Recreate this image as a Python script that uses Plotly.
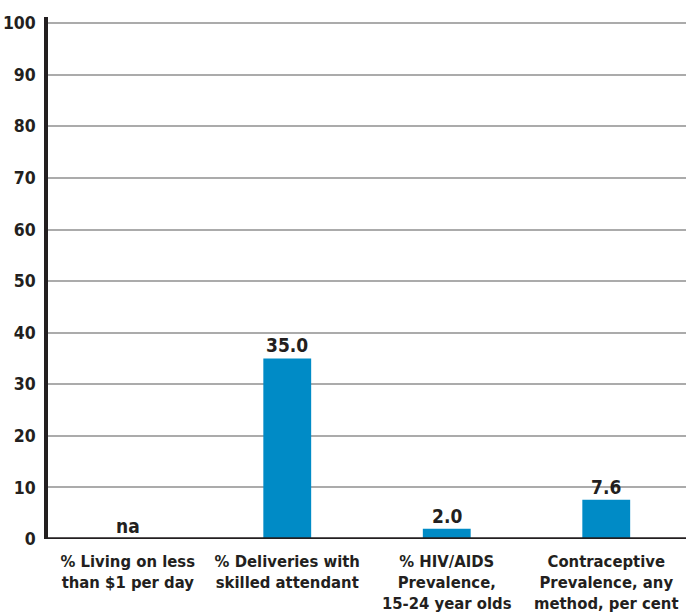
import plotly.graph_objects as go

categories = ["% Living on less<br>than $1 per day",
              "% Deliveries with<br>skilled attendant",
              "% HIV/AIDS<br>Prevalence,<br>15-24 year olds",
              "Contraceptive<br>Prevalence, any<br>method, per cent"]
values = [None, 35.0, 2.0, 7.6]
labels = ["na", "35.0", "2.0", "7.6"]
y_ticks = [0, 10, 20, 30, 40, 50, 60, 70, 80, 90, 100]

FONT = "DejaVu Sans Condensed, Roboto, sans-serif"
DARK = "#231f20"

fig = go.Figure()
fig.add_trace(go.Bar(
    x=categories,
    y=[v if v is not None else 0 for v in values],
    width=0.3,
    marker=dict(color="#008bc6", line=dict(width=0)),
    hoverinfo="skip",
))

for c, v, t in zip(categories, values, labels):
    fig.add_annotation(x=c, y=v if v is not None else 0, text="<b>%s</b>" % t,
                       showarrow=False, yanchor="bottom", yshift=0,
                       font=dict(family=FONT, size=19, color=DARK))

fig.update_layout(
    width=686, height=616,
    margin=dict(l=48, r=0, t=17, b=77),
    plot_bgcolor="white", paper_bgcolor="white",
    showlegend=False,
    xaxis=dict(range=[-0.5, 3.5], showgrid=False, showline=False,
               automargin=False,
               tickfont=dict(family=FONT, size=16.5, color=DARK),
               ticks="", ticklabelstandoff=10, fixedrange=True),
    yaxis=dict(range=[0, 101.2], tickvals=y_ticks, automargin=False,
               ticktext=["<b>%d</b>" % t for t in y_ticks],
               showgrid=True, gridcolor="#ababab", gridwidth=1.5,
               showline=True, linecolor=DARK, linewidth=3.5,
               zeroline=False, ticks="", ticklabelstandoff=5,
               fixedrange=True,
               tickfont=dict(family=FONT, size=17.5, color=DARK)),
)
fig.update_xaxes(tickvals=categories, ticktext=["<b>%s</b>" % c for c in categories])
fig.add_shape(type="line", xref="paper", yref="y", x0=0, x1=1, y0=0, y1=0,
              line=dict(color=DARK, width=3.5))

fig.write_html("out.html", config={"displayModeBar": False},
               post_script="document.body.style.margin='0';")
